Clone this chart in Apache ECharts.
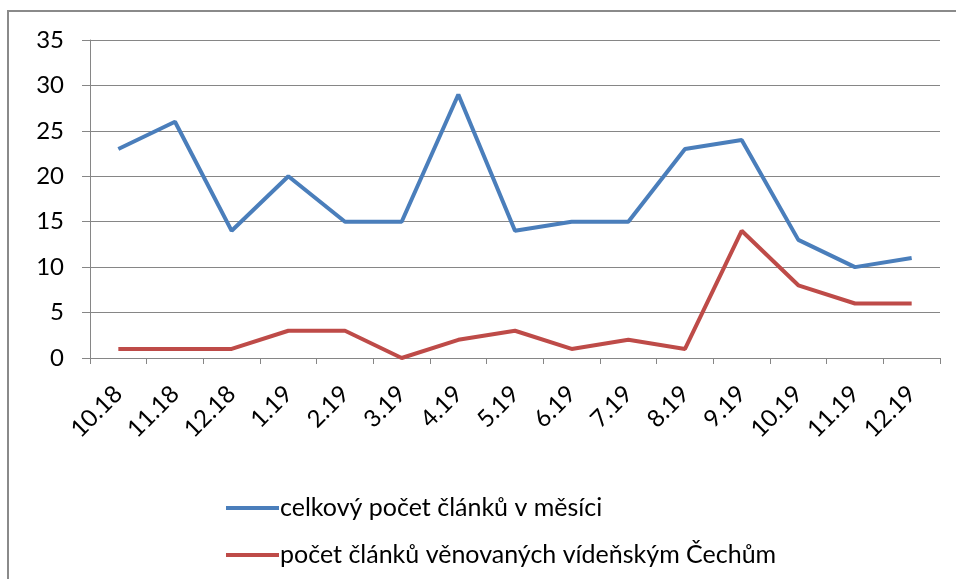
<!DOCTYPE html>
<html>
<head>
<meta charset="utf-8">
<script src="https://cdn.jsdelivr.net/npm/echarts@6/dist/echarts.min.js"></script>
<style>html,body{margin:0;padding:0;background:#fff}#c{width:956px;height:579px}</style>
</head>
<body>
<div id="c"></div>
<script>
const categories = ['10.18','11.18','12.18','1.19','2.19','3.19','4.19','5.19','6.19','7.19','8.19','9.19','10.19','11.19','12.19'];
const totalArticles = [23, 26, 14, 20, 15, 15, 29, 14, 15, 15, 23, 24, 13, 10, 11];
const viennaCzechArticles = [1, 1, 1, 3, 3, 0, 2, 3, 1, 2, 1, 14, 8, 6, 6];
const seriesNames = ['celkový počet článků v měsíci', 'počet článků věnovaných vídeňským Čechům'];

const chart = echarts.init(document.getElementById('c'), null, {renderer: 'canvas'});
const font = 'Lato';
chart.setOption({
  animation: false,
  backgroundColor: '#fff',
  graphic: [{
    type: 'rect', silent: true,
    shape: {x: 8, y: 11, width: 1000, height: 1000},
    style: {fill: 'none', stroke: '#8a8a8a', lineWidth: 2}
  }],
  grid: {left: 90, right: 16, top: 40, bottom: 221},
  xAxis: {
    type: 'category', data: categories, boundaryGap: true,
    axisLine: {lineStyle: {color: '#868686', width: 1}},
    axisTick: {show: true, length: 6, lineStyle: {color: '#868686'}},
    axisLabel: {rotate: 45, margin: 32, color: '#000', fontFamily: font, fontSize: 24, interval: 0}
  },
  yAxis: {
    type: 'value', min: 0, max: 35, interval: 5,
    axisLine: {show: true, lineStyle: {color: '#868686', width: 1}},
    axisTick: {show: true, length: 8, lineStyle: {color: '#868686'}},
    splitLine: {lineStyle: {color: '#868686', width: 1}},
    axisLabel: {margin: 26, color: '#000', fontFamily: font, fontSize: 24}
  },
  legend: {
    orient: 'vertical', left: 221, top: 489,
    itemWidth: 53, itemHeight: 4, itemGap: 19,
    icon: 'rect',
    textStyle: {fontFamily: font, fontSize: 25, color: '#000', padding: [0,0,0,-4], lineHeight: 28},
    data: seriesNames
  },
  series: [
    {name: seriesNames[0], type: 'line', data: totalArticles, showSymbol: false, symbol: 'none',
     lineStyle: {color: '#4A7EBB', width: 4}, itemStyle: {color: '#4A7EBB'}},
    {name: seriesNames[1], type: 'line', data: viennaCzechArticles, showSymbol: false, symbol: 'none',
     lineStyle: {color: '#BE4B48', width: 4}, itemStyle: {color: '#BE4B48'}}
  ]
});
</script>
</body>
</html>
